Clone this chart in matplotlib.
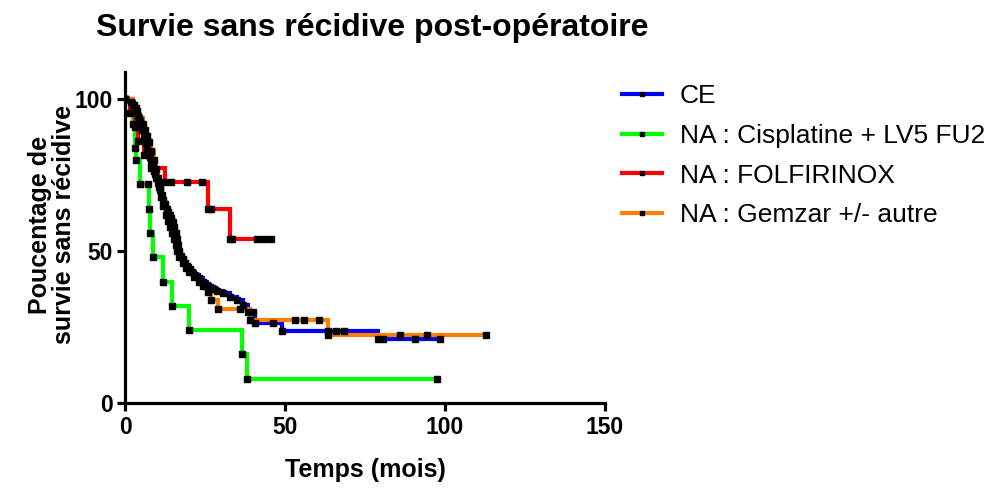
import numpy as np
import matplotlib
matplotlib.use("Agg")
import matplotlib.pyplot as plt
from matplotlib.lines import Line2D

plt.rcParams['font.family'] = ['Liberation Sans', 'DejaVu Sans']

# Kaplan-Meier points (month, % survival); every point gets a mark
ce_t = [0, 2.0, 2.8, 3.3, 3.8, 4.2, 4.6, 5.0, 5.4, 5.8, 6.2, 6.6, 7.0, 7.4, 7.8, 8.2,
        8.6, 9.0, 9.4, 9.8, 10.2, 10.6, 11.0, 11.5, 12.0, 12.5, 13.0, 13.5, 14.0, 14.5,
        15.0, 15.4, 15.8, 16.2, 16.6, 17.0, 17.5, 18.0, 18.8, 19.5, 20.3, 21.0, 22.0,
        23.0, 24.4, 25.5, 26.6, 27.7, 28.7, 30.6, 32.8, 35.0, 36.9, 38.5, 40.0, 40.6,
        46.3, 49.0, 63.4, 66.0, 68.4, 79.0, 80.6, 90.6, 98.4]
ce_s = [100, 99, 98, 97, 96, 94.5, 93, 91.5, 90, 88.5, 87, 85.5, 84, 82.5, 81, 79.5,
        78, 76.5, 75.5, 74, 72.5, 71, 70, 68.5, 67, 65.5, 64, 63, 62, 61,
        59.5, 58, 56, 54, 52, 50, 48.5, 47.5, 46, 45, 44, 43, 42,
        41, 40, 39, 38.2, 37.5, 37, 36.2, 35, 34, 32.2, 30, 30, 26.3,
        26.3, 23.7, 23.7, 23.7, 23.7, 21, 21, 21, 21]

cis_t = [0, 2.5, 3.0, 3.3, 4.7, 7.2, 7.6, 7.9, 8.75, 11.9, 14.7, 20.0, 36.6, 38.0, 97.5]
cis_s = [100, 92, 84, 80, 72, 72, 64, 56, 48, 40, 32, 24, 16, 8, 8]

folf_t = [0, 1.5, 3.0, 4.0, 6.0, 8.0, 12.5, 14.5, 19.5, 24.0, 26.0, 27.0, 32.8, 33.4,
          41.2, 43.4, 45.6]
folf_s = [100, 95.5, 91, 86.4, 81.8, 77.3, 72.7, 72.7, 72.7, 72.7, 64, 64, 54, 54,
          54, 54, 54]

gem_t = [0, 2.5, 3.5, 4.5, 5.5, 6.2, 6.8, 7.5, 8.2, 9.0, 9.6, 10.2, 10.8, 11.4, 12.0,
         12.7, 13.4, 14.0, 14.6, 15.2, 15.8, 16.4, 17.0, 18.0, 19.0, 20.0, 21.5, 23.0,
         24.5, 26.0, 27.0, 29.0, 36.0, 39.0, 53.0, 56.0, 60.5, 63.4, 86.0, 94.4, 112.8]
gem_s = [100, 98, 96, 94, 92, 90, 88, 86, 83, 80, 77, 74, 71, 68, 65,
         62, 60, 58, 56, 54, 52, 50, 48, 46, 44.5, 43, 41.5, 40,
         38.5, 36.5, 33.8, 31, 31, 27.3, 27.3, 27.3, 27.3, 22.4, 22.4, 22.4, 22.4]

labels = ['CE', 'NA : Cisplatine + LV5 FU2', 'NA : FOLFIRINOX', 'NA : Gemzar +/- autre']
colors = ['#0000FF', '#00FF00', '#FF0000', '#FF8000']
series = [(ce_t, ce_s), (cis_t, cis_s), (folf_t, folf_s), (gem_t, gem_s)]
draw_order = [1, 2, 3, 0]

fig = plt.figure(figsize=(10.02, 4.93), dpi=100)
ax = fig.add_axes([125 / 1002, 1 - 403 / 493, 480 / 1002, 331 / 493])

for i in draw_order:
    t, s = series[i]
    ax.step(t, s, where='post', color=colors[i], lw=3, zorder=2 + i * 0.1,
            solid_joinstyle='miter')
for i in draw_order:
    t, s = series[i]
    ax.plot(t, s, 's', color='black', ms=4.5, zorder=5)

ax.set_xlim(0, 150)
ax.set_ylim(0, 109)
ax.set_xticks([0, 50, 100, 150])
ax.set_yticks([0, 50, 100])
for sp in ['top', 'right']:
    ax.spines[sp].set_visible(False)
for sp in ['left', 'bottom']:
    ax.spines[sp].set_linewidth(2.3)
ax.tick_params(width=2.3, length=6, labelsize=16.5, pad=3)
for lb in ax.get_xticklabels() + ax.get_yticklabels():
    lb.set_fontweight('bold')

ax.set_xlabel('Temps (mois)', fontsize=18, fontweight='bold', labelpad=14)
ax.set_ylabel('Poucentage de\nsurvie sans récidive', fontsize=18, fontweight='bold',
              linespacing=1.0)
ax.yaxis.set_label_coords(-0.102, 0.538)
fig.text(372 / 1002, 1 - 28 / 493, 'Survie sans récidive post-opératoire',
         fontsize=23, fontweight='bold', ha='center', va='center')

handles = [Line2D([], [], color=c, lw=3, marker='s', mfc='black', mec='black', ms=3)
           for c in colors]
fig.legend(handles, labels, loc='upper left', bbox_to_anchor=(622 / 1002, 1 - 84 / 493),
           frameon=False, fontsize=19, handlelength=1.5, handletextpad=0.7,
           labelspacing=0.6, borderpad=0, borderaxespad=0, numpoints=1)

fig.savefig('out.png', dpi=100)
